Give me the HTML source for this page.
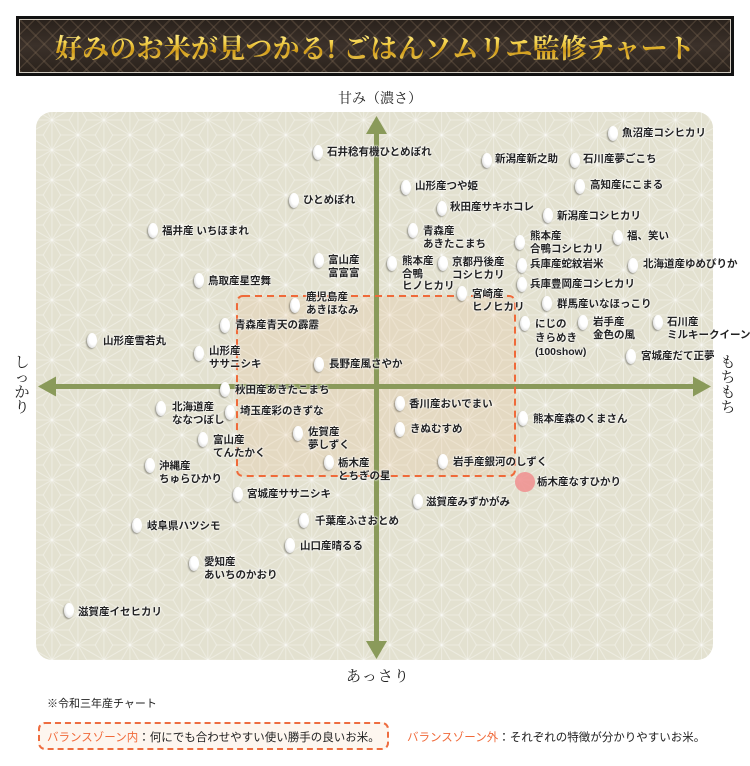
<!DOCTYPE html>
<html><head><meta charset="utf-8">
<style>
*{margin:0;padding:0;box-sizing:border-box}
html,body{width:750px;height:766px;background:#fff;overflow:hidden}
body{position:relative;font-family:"Liberation Sans","Noto Sans CJK JP",sans-serif}
.banner{position:absolute;left:16px;top:16px;width:718px;height:60px;background:#111;padding:3px}
.banner .in{width:100%;height:100%;border:1.5px solid #cfcac0;
background:
repeating-linear-gradient(45deg,rgba(120,100,80,.35) 0 1.5px,transparent 1.5px 12px),
repeating-linear-gradient(-45deg,rgba(120,100,80,.35) 0 1.5px,transparent 1.5px 12px),
linear-gradient(#2a221c,#3b312a 50%,#2a221c);
display:flex;align-items:center;justify-content:center}
.title{font-family:"Liberation Serif","Noto Serif CJK JP",serif;font-weight:bold;font-size:27px;letter-spacing:0.2px;
background:linear-gradient(#fff8b8 0%,#f4d24c 40%,#d09a18 62%,#f8e070 100%);-webkit-background-clip:text;background-clip:text;color:transparent;white-space:nowrap;margin-top:1px}
.ax{position:absolute;font-family:"Liberation Serif","Noto Serif CJK JP",serif;color:#222;white-space:nowrap}
.g{position:absolute;width:10px;height:15px;border-radius:50%;
background:radial-gradient(ellipse at 62% 38%,#fff 0%,#fff 45%,#e2e2e2 72%,#a0a0a0 100%);
box-shadow:-1px 1px 1.5px rgba(0,0,0,.35)}
.t{position:absolute;font-size:10.5px;line-height:12.5px;color:#222;font-weight:bold;white-space:nowrap;
text-shadow:0 0 2px #fff,0 0 2px #fff,0 0 1px #fff}
.note{position:absolute;left:47px;top:695px;font-size:11px;color:#222}
.leg{position:absolute;left:38px;top:722px;width:351px;height:28px;border:2px dashed #ee6d40;border-radius:7px;background:#fdf6ef}
.lt{position:absolute;top:729px;font-size:11.5px;color:#222;white-space:nowrap}
.or{color:#f06a3a}
</style></head><body>

<div class="banner"><div class="in"><div class="title">好みのお米が見つかる! ごはんソムリエ監修チャート</div></div></div>

<svg width="750" height="766" style="position:absolute;left:0;top:0" xmlns="http://www.w3.org/2000/svg">
<defs>
<pattern id="asa" patternUnits="userSpaceOnUse" width="51.96" height="30" x="0" y="0">
<g stroke="#ffffff" stroke-opacity="0.36" stroke-width="1" fill="none">
<line x1="0" y1="0" x2="0" y2="30"/>
<line x1="25.98" y1="0" x2="25.98" y2="30"/>
<line x1="51.96" y1="0" x2="51.96" y2="30"/>
<line x1="0" y1="0" x2="51.96" y2="30"/>
<line x1="0" y1="30" x2="51.96" y2="0"/>
<line x1="8.66" y1="15" x2="0" y2="0"/>
<line x1="8.66" y1="15" x2="0" y2="30"/>
<line x1="8.66" y1="15" x2="25.98" y2="15"/>
<line x1="43.3" y1="15" x2="51.96" y2="0"/>
<line x1="43.3" y1="15" x2="51.96" y2="30"/>
<line x1="43.3" y1="15" x2="25.98" y2="15"/>
<line x1="17.32" y1="0" x2="0" y2="0"/>
<line x1="17.32" y1="0" x2="25.98" y2="15"/>
<line x1="34.64" y1="0" x2="51.96" y2="0"/>
<line x1="34.64" y1="0" x2="25.98" y2="15"/>
<line x1="17.32" y1="30" x2="0" y2="30"/>
<line x1="17.32" y1="30" x2="25.98" y2="15"/>
<line x1="34.64" y1="30" x2="51.96" y2="30"/>
<line x1="34.64" y1="30" x2="25.98" y2="15"/>
</g>
</pattern>
</defs>
<rect x="36" y="112" width="677" height="548" rx="16" fill="#e3e1d0"/>
<rect x="36" y="112" width="677" height="548" rx="16" fill="url(#asa)"/>
<rect x="237" y="296" width="278" height="180" rx="6" fill="#eab57a" fill-opacity="0.16"/>
<g fill="#8a9a5a">
<rect x="374" y="128" width="5" height="518"/>
<polygon points="376.5,116 366,134 387,134"/>
<polygon points="376.5,659 366,641 387,641"/>
<rect x="52" y="384" width="646" height="5"/>
<polygon points="38,386.5 56,376.5 56,396.5"/>
<polygon points="711,386.5 693,376.5 693,396.5"/>
</g>
<rect x="237" y="296" width="278" height="180" rx="6" fill="none" stroke="#ef6a3a" stroke-width="2" stroke-dasharray="7 5"/>
<circle cx="525" cy="482" r="10" fill="#f08e8e" fill-opacity="0.85"/>
</svg>

<div class="ax" style="left:338px;top:88px;font-size:14px">甘み（濃さ）</div>
<div class="ax" style="left:346px;top:665px;font-size:15px;letter-spacing:1px">あっさり</div>
<div class="ax" style="left:14px;top:356px;font-size:15px;line-height:15px;width:16px;white-space:normal;text-align:center">し<br>っ<br>か<br>り</div>
<div class="ax" style="left:720px;top:356px;font-size:15px;line-height:15px;width:16px;white-space:normal;text-align:center">も<br>ち<br>も<br>ち</div>

<div class="g" style="left:608px;top:126px"></div><div class="t" style="left:622px;top:127px">魚沼産コシヒカリ</div>
<div class="g" style="left:313px;top:145px"></div><div class="t" style="left:327px;top:146px">石井稔有機ひとめぼれ</div>
<div class="g" style="left:482px;top:153px"></div><div class="t" style="left:495px;top:153px">新潟産新之助</div>
<div class="g" style="left:570px;top:153px"></div><div class="t" style="left:583px;top:153px">石川産夢ごこち</div>
<div class="g" style="left:575px;top:179px"></div><div class="t" style="left:590px;top:179px">高知産にこまる</div>
<div class="g" style="left:401px;top:180px"></div><div class="t" style="left:415px;top:180px">山形産つや姫</div>
<div class="g" style="left:289px;top:193px"></div><div class="t" style="left:303px;top:194px">ひとめぼれ</div>
<div class="g" style="left:437px;top:201px"></div><div class="t" style="left:450px;top:201px">秋田産サキホコレ</div>
<div class="g" style="left:543px;top:208px"></div><div class="t" style="left:557px;top:210px">新潟産コシヒカリ</div>
<div class="g" style="left:148px;top:223px"></div><div class="t" style="left:162px;top:225px">福井産 いちほまれ</div>
<div class="g" style="left:408px;top:223px"></div><div class="t" style="left:423px;top:225px">青森産<br>あきたこまち</div>
<div class="g" style="left:515px;top:235px"></div><div class="t" style="left:530px;top:230px">熊本産<br>合鴨コシヒカリ</div>
<div class="g" style="left:613px;top:230px"></div><div class="t" style="left:627px;top:230px">福、笑い</div>
<div class="g" style="left:314px;top:253px"></div><div class="t" style="left:328px;top:254px">富山産<br>富富富</div>
<div class="g" style="left:387px;top:256px"></div><div class="t" style="left:402px;top:255px">熊本産<br>合鴨<br>ヒノヒカリ</div>
<div class="g" style="left:438px;top:256px"></div><div class="t" style="left:452px;top:256px">京都丹後産<br>コシヒカリ</div>
<div class="g" style="left:517px;top:258px"></div><div class="t" style="left:530px;top:258px">兵庫産蛇紋岩米</div>
<div class="g" style="left:628px;top:258px"></div><div class="t" style="left:643px;top:258px">北海道産ゆめぴりか</div>
<div class="g" style="left:194px;top:273px"></div><div class="t" style="left:208px;top:275px">鳥取産星空舞</div>
<div class="g" style="left:517px;top:277px"></div><div class="t" style="left:530px;top:278px">兵庫豊岡産コシヒカリ</div>
<div class="g" style="left:457px;top:286px"></div><div class="t" style="left:472px;top:288px">宮崎産<br>ヒノヒカリ</div>
<div class="g" style="left:290px;top:298px"></div><div class="t" style="left:306px;top:291px">鹿児島産<br>あきほなみ</div>
<div class="g" style="left:542px;top:296px"></div><div class="t" style="left:557px;top:298px">群馬産いなほっこり</div>
<div class="g" style="left:220px;top:318px"></div><div class="t" style="left:235px;top:319px">青森産青天の霹靂</div>
<div class="g" style="left:520px;top:316px"></div><div class="t" style="left:535px;top:317px;line-height:14px">にじの<br>きらめき<br>(100show)</div>
<div class="g" style="left:578px;top:315px"></div><div class="t" style="left:593px;top:316px">岩手産<br>金色の風</div>
<div class="g" style="left:653px;top:315px"></div><div class="t" style="left:667px;top:316px">石川産<br>ミルキークイーン</div>
<div class="g" style="left:87px;top:333px"></div><div class="t" style="left:103px;top:335px">山形産雪若丸</div>
<div class="g" style="left:194px;top:346px"></div><div class="t" style="left:209px;top:345px">山形産<br>ササニシキ</div>
<div class="g" style="left:314px;top:357px"></div><div class="t" style="left:329px;top:358px">長野産風さやか</div>
<div class="g" style="left:626px;top:349px"></div><div class="t" style="left:641px;top:350px">宮城産だて正夢</div>
<div class="g" style="left:220px;top:382px"></div><div class="t" style="left:235px;top:384px">秋田産あきたこまち</div>
<div class="g" style="left:395px;top:396px"></div><div class="t" style="left:409px;top:398px">香川産おいでまい</div>
<div class="g" style="left:156px;top:401px"></div><div class="t" style="left:172px;top:401px">北海道産<br>ななつぼし</div>
<div class="g" style="left:225px;top:405px"></div><div class="t" style="left:240px;top:405px">埼玉産彩のきずな</div>
<div class="g" style="left:518px;top:411px"></div><div class="t" style="left:533px;top:413px">熊本産森のくまさん</div>
<div class="g" style="left:395px;top:422px"></div><div class="t" style="left:410px;top:423px">きぬむすめ</div>
<div class="g" style="left:293px;top:426px"></div><div class="t" style="left:308px;top:426px">佐賀産<br>夢しずく</div>
<div class="g" style="left:198px;top:432px"></div><div class="t" style="left:213px;top:434px">富山産<br>てんたかく</div>
<div class="g" style="left:145px;top:458px"></div><div class="t" style="left:159px;top:460px">沖縄産<br>ちゅらひかり</div>
<div class="g" style="left:324px;top:455px"></div><div class="t" style="left:338px;top:457px">栃木産<br>とちぎの星</div>
<div class="g" style="left:438px;top:454px"></div><div class="t" style="left:453px;top:456px">岩手産銀河のしずく</div>
<div class="t" style="left:537px;top:476px">栃木産なすひかり</div>
<div class="g" style="left:233px;top:487px"></div><div class="t" style="left:247px;top:488px">宮城産ササニシキ</div>
<div class="g" style="left:413px;top:494px"></div><div class="t" style="left:426px;top:496px">滋賀産みずかがみ</div>
<div class="g" style="left:299px;top:513px"></div><div class="t" style="left:315px;top:515px">千葉産ふさおとめ</div>
<div class="g" style="left:132px;top:518px"></div><div class="t" style="left:147px;top:520px">岐阜県ハツシモ</div>
<div class="g" style="left:285px;top:538px"></div><div class="t" style="left:300px;top:540px">山口産晴るる</div>
<div class="g" style="left:189px;top:556px"></div><div class="t" style="left:204px;top:556px">愛知産<br>あいちのかおり</div>
<div class="g" style="left:64px;top:603px"></div><div class="t" style="left:78px;top:606px">滋賀産イセヒカリ</div>

<div class="note">※令和三年産チャート</div>
<div class="leg"></div>
<div class="lt" style="left:47px"><span class="or">バランスゾーン内</span>：何にでも合わせやすい使い勝手の良いお米。</div>
<div class="lt" style="left:407px"><span class="or">バランスゾーン外</span>：それぞれの特徴が分かりやすいお米。</div>

</body></html>
